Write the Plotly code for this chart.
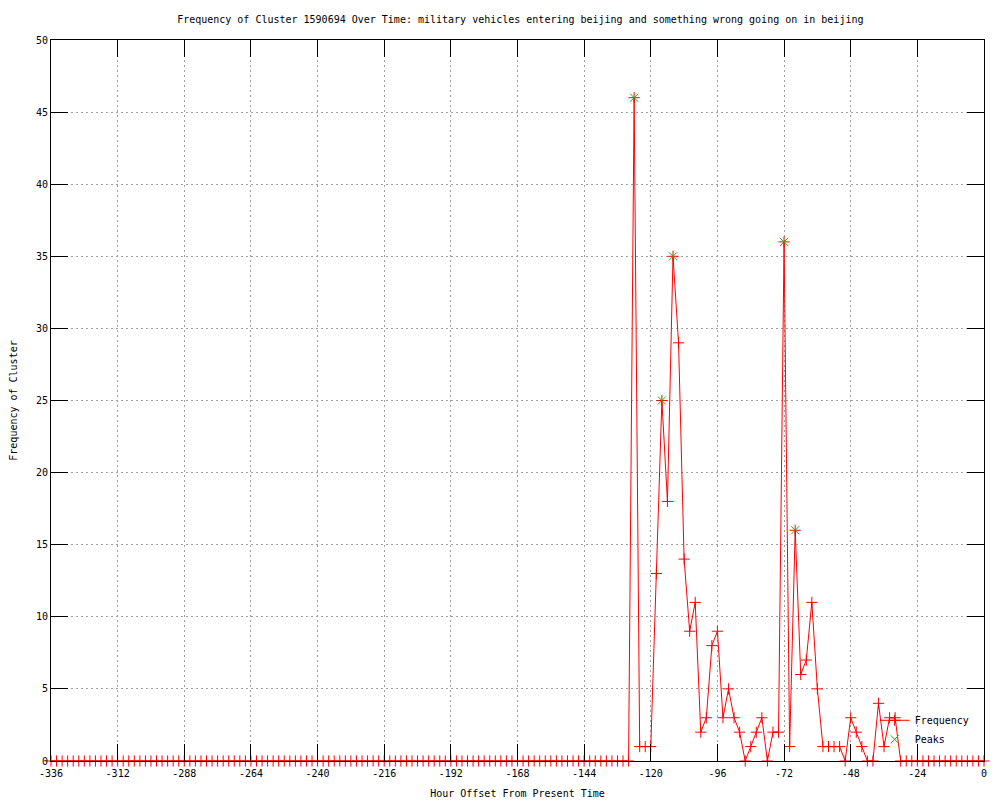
import plotly.graph_objects as go

# Hour offsets (every 2 hours from -336 to 0)
hours = list(range(-336, 1, 2))

# Frequency values
freq_zero_head = [0] * 105  # -336 .. -128
freq_active = [46, 1, 1, 1, 13, 25, 18, 35, 29, 14, 9, 11, 2, 3, 8, 9, 3, 5, 3, 2,
               0, 1, 2, 3, 0, 2, 2, 36, 1, 16, 6, 7, 11, 5, 1, 1, 1, 1, 0, 3,
               2, 1, 0, 0, 4, 1, 3, 3, 0]  # -126 .. -30
freq_zero_tail = [0] * 15  # -28 .. 0
frequency = freq_zero_head + freq_active + freq_zero_tail

# Peaks
peak_hours = [-126, -116, -112, -72, -68]
peak_values = [46, 25, 35, 36, 16]

x_tickvals = list(range(-336, 1, 24))
x_ticktext = [str(v) for v in x_tickvals]
y_tickvals = list(range(0, 51, 5))
y_ticktext = [str(v) for v in y_tickvals]

FONT = "DejaVu Sans Mono"

fig = go.Figure()
fig.add_trace(go.Scatter(
    x=hours, y=frequency, mode="lines+markers", name="Frequency",
    line=dict(color="#ff0000", width=1),
    marker=dict(symbol="cross-thin-open", size=8, line=dict(color="#ff0000", width=1), color="#ff0000"),
    cliponaxis=False,
))
fig.add_trace(go.Scatter(
    x=peak_hours, y=peak_values, mode="markers", name="Peaks",
    marker=dict(symbol="x-thin-open", size=8, line=dict(color="#00c000", width=1), color="#00c000"),
    cliponaxis=False,
))

axis_common = dict(
    showline=True, linecolor="black", linewidth=1, mirror="allticks",
    ticks="inside", ticklen=17, tickcolor="black", tickwidth=1,
    showgrid=True, gridcolor="#a0a0a0", griddash="2px,3px", gridwidth=1,
    zeroline=False, tickfont=dict(family=FONT, size=10, color="black"),
    automargin=False,
)

fig.update_layout(
    width=1000, height=800,
    paper_bgcolor="white", plot_bgcolor="white",
    margin=dict(l=43, r=24, t=32, b=47),
    title=dict(
        text="Frequency of Cluster 1590694 Over Time: military vehicles entering beijing and something wrong going on in beijing",
        x=0.503, xref="paper", xanchor="center", y=1 - 11 / 800, yanchor="middle",
        font=dict(family=FONT, size=10, color="black"),
    ),
    xaxis=dict(range=[-336, 0], tickvals=x_tickvals, ticktext=x_ticktext, ticklabelstandoff=3,
               title=dict(text="Hour Offset From Present Time", font=dict(family=FONT, size=10, color="black"), standoff=11),
               **axis_common),
    yaxis=dict(range=[0, 50], tickvals=y_tickvals, ticktext=y_ticktext,
               title=dict(text="Frequency of Cluster", font=dict(family=FONT, size=10, color="black"), standoff=16),
               **axis_common),
    legend=dict(x=0.99, xanchor="right", y=0.01, yanchor="bottom",
                bgcolor="rgba(0,0,0,0)", font=dict(family=FONT, size=10, color="black"),
                tracegroupgap=0),
    showlegend=True,
)

fig.write_html("out.html")
